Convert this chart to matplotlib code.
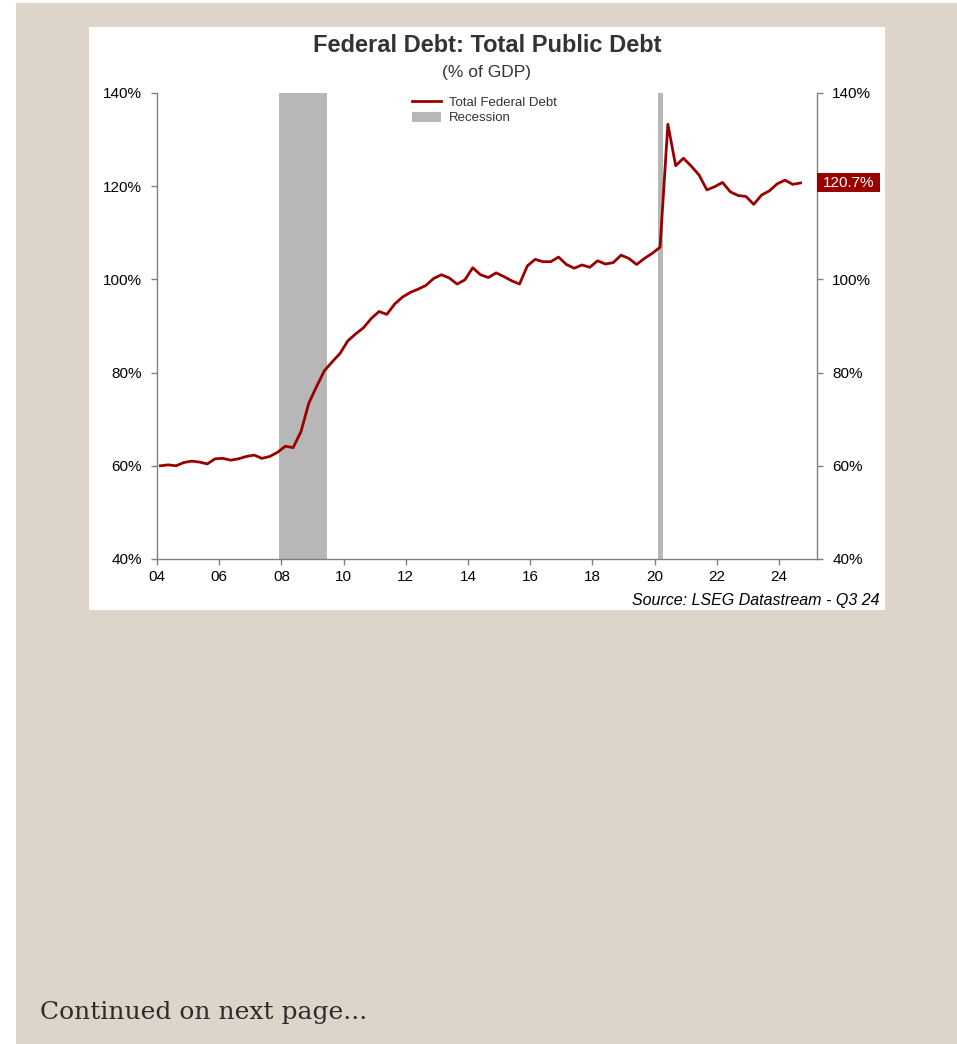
import matplotlib
matplotlib.use("Agg")
import matplotlib.pyplot as plt
import matplotlib.transforms as mtransforms
from matplotlib.patches import Rectangle
from matplotlib.lines import Line2D
from matplotlib.patches import Patch

# quarterly data, 2004 Q1 .. 2024 Q3 (% of GDP)
start_year = 2004
debt = [60.0, 60.2, 60.0, 60.7, 61.0, 60.8, 60.4, 61.5, 61.6, 61.2,
        61.5, 62.0, 62.3, 61.6, 62.0, 62.9, 64.2, 63.9, 67.3, 73.4,
        77.0, 80.4, 82.3, 84.1, 86.8, 88.3, 89.6, 91.6, 93.1, 92.5,
        94.7, 96.2, 97.2, 97.9, 98.7, 100.2, 101.0, 100.3, 99.0, 99.9,
        102.5, 101.0, 100.4, 101.4, 100.6, 99.7, 99.0, 102.9, 104.3, 103.8,
        103.8, 104.8, 103.2, 102.4, 103.1, 102.6, 104.0, 103.3, 103.6, 105.2,
        104.5, 103.2, 104.5, 105.6, 106.9, 133.3, 124.4, 126.0, 124.3, 122.4,
        119.2, 119.9, 120.8, 118.8, 118.0, 117.8, 116.1, 118.1, 119.0, 120.5,
        121.3, 120.4, 120.7]
recessions = [(2007.92, 2009.47), (2020.11, 2020.27)]
x_ticks = list(range(2004, 2025, 2))
x_labels = [f"{y % 100:02d}" for y in x_ticks]
y_ticks = [40, 60, 80, 100, 120, 140]
last_label = "120.7%"

x = [start_year + 0.11 + 0.251 * i for i in range(len(debt))]

W, H = 957, 1044
fig = plt.figure(figsize=(W / 100, H / 100), dpi=100)
fig.patch.set_facecolor("#ddd5c9")

def px_rect(x0, y0, x1, y1, color):
    fig.patches.append(Rectangle((x0 / W, 1 - y1 / H), (x1 - x0) / W, (y1 - y0) / H,
                                 transform=fig.transFigure, facecolor=color,
                                 edgecolor="none", zorder=-10))

# page margins and white chart panel
px_rect(0, 0, W, 3, "white")
px_rect(0, 0, 16, H, "white")
px_rect(89, 27, 885, 610, "white")

red = "#990000"
grey = "#b7b7b7"
spine_c = "#808080"
font = "Liberation Sans"

ax = fig.add_axes([157 / W, 1 - 559 / H, 660 / W, 466 / H])
ax.set_facecolor("none")

for a, b in recessions:
    ax.axvspan(a, b, color=grey, lw=0, zorder=1)
ax.plot(x, debt, color=red, lw=2.0, zorder=3, solid_joinstyle="round")

ax.set_xlim(2004, 2025.22)
ax.set_ylim(40, 140)
ax.set_xticks(x_ticks)
ax.set_xticklabels(x_labels, fontfamily=font, fontsize=11)
ax.set_yticks(y_ticks)
ax.set_yticklabels([f"{v}%" for v in y_ticks], fontfamily=font, fontsize=11)
ax.tick_params(axis="y", left=True, right=True, labelleft=True, labelright=True,
               direction="out", length=4, width=1, color=spine_c, pad=7)
ax.tick_params(axis="x", direction="out", length=4, width=1, color=spine_c, pad=4)
for v, t in zip(y_ticks, ax.yaxis.get_major_ticks()):
    t.label2.set_fontfamily(font)
    t.label2.set_fontsize(11)
    t.label2.set_text(f"{v}%")
    if v == 120:
        # hidden behind the last-value box
        t.label2.set_visible(False)
ax.spines["top"].set_visible(False)
for s in ["left", "right", "bottom"]:
    ax.spines[s].set_color(spine_c)
    ax.spines[s].set_linewidth(1)

# last value box
trans = mtransforms.blended_transform_factory(ax.transAxes, ax.transData)
last = debt[-1]
ax.add_patch(Rectangle((1.0, last - 2.05), 0.0955, 4.1, transform=trans,
                       facecolor=red, edgecolor="none", clip_on=False, zorder=4))
ax.text(1.0477, last, last_label, transform=trans, ha="center", va="center",
        color="white", fontsize=11, fontfamily=font, zorder=5)

handles = [Line2D([0], [0], color=red, lw=2.0), Patch(facecolor=grey, edgecolor="none")]
leg = ax.legend(handles, ["Total Federal Debt", "Recession"], loc="upper left",
                bbox_to_anchor=((412 - 157) / 660, 0.992), frameon=False,
                prop={"family": font, "size": 9.5}, borderpad=0, borderaxespad=0,
                handlelength=2.2, handleheight=0.75, handletextpad=0.6,
                labelspacing=0.22)
for t in leg.get_texts():
    t.set_color("#333333")

fig.text(487 / W, 1 - 45 / H, "Federal Debt: Total Public Debt", ha="center",
         va="center", fontsize=17, fontweight="bold", fontfamily=font, color="#333333")
fig.text(487 / W, 1 - 73 / H, "(% of GDP)", ha="center", va="center",
         fontsize=12.5, fontfamily=font, color="#333333")
fig.text(880 / W, 1 - 600 / H, "Source: LSEG Datastream - Q3 24", ha="right",
         va="center", fontsize=11.5, fontstyle="italic", fontfamily=font, color="black")
fig.text(40 / W, 1 - 1012 / H, "Continued on next page...", ha="left", va="center",
         fontsize=18, fontfamily="DejaVu Serif", color="#2b2b2b")

fig.savefig("out.png", dpi=100, facecolor=fig.get_facecolor())
